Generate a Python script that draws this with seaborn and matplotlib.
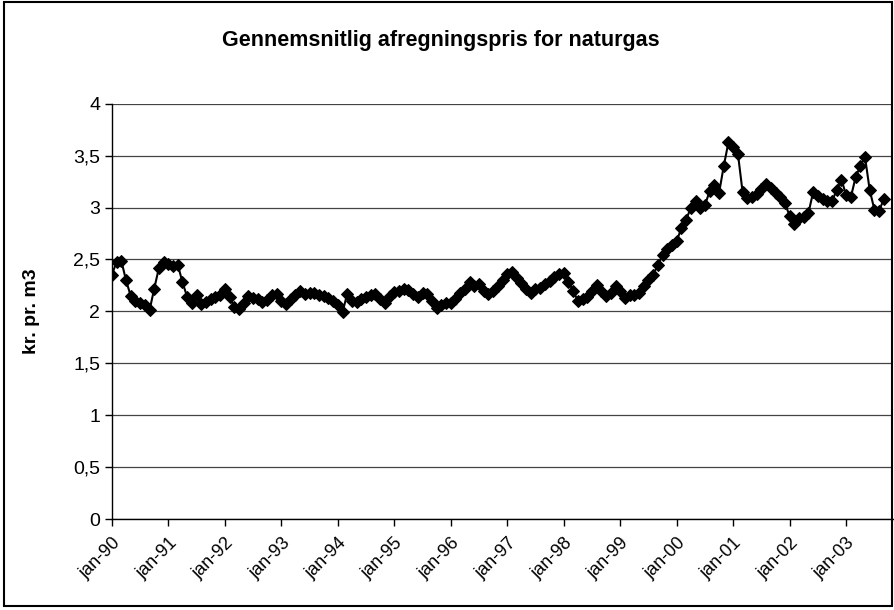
import matplotlib.pyplot as plt
import seaborn as sns
import pandas as pd
from matplotlib.patches import Rectangle

# Monthly average natural gas price (kr. pr. m3), jan-90 .. sep-03
y1990 = [2.35, 2.48, 2.49, 2.30, 2.15, 2.10, 2.08, 2.06, 2.01, 2.22, 2.42, 2.48]
y1991 = [2.46, 2.44, 2.45, 2.28, 2.14, 2.08, 2.16, 2.07, 2.09, 2.12, 2.14, 2.16]
y1992 = [2.22, 2.14, 2.04, 2.02, 2.08, 2.15, 2.13, 2.12, 2.09, 2.11, 2.16, 2.17]
y1993 = [2.10, 2.07, 2.12, 2.16, 2.20, 2.17, 2.18, 2.18, 2.16, 2.15, 2.13, 2.10]
y1994 = [2.06, 1.99, 2.17, 2.10, 2.09, 2.12, 2.14, 2.16, 2.17, 2.12, 2.08, 2.15]
y1995 = [2.19, 2.20, 2.22, 2.21, 2.17, 2.14, 2.18, 2.17, 2.10, 2.03, 2.06, 2.08]
y1996 = [2.08, 2.12, 2.18, 2.22, 2.28, 2.24, 2.26, 2.20, 2.17, 2.20, 2.24, 2.30]
y1997 = [2.36, 2.38, 2.32, 2.27, 2.22, 2.18, 2.22, 2.23, 2.26, 2.29, 2.33, 2.36]
y1998 = [2.37, 2.28, 2.20, 2.10, 2.12, 2.14, 2.20, 2.25, 2.20, 2.15, 2.18, 2.24]
y1999 = [2.20, 2.13, 2.16, 2.16, 2.18, 2.24, 2.30, 2.35, 2.45, 2.54, 2.60, 2.64]
y2000 = [2.68, 2.80, 2.88, 3.00, 3.06, 3.00, 3.02, 3.16, 3.22, 3.14, 3.40, 3.63]
y2001 = [3.58, 3.52, 3.15, 3.09, 3.10, 3.13, 3.18, 3.23, 3.19, 3.14, 3.10, 3.04]
y2002 = [2.92, 2.84, 2.90, 2.91, 2.95, 3.15, 3.11, 3.08, 3.06, 3.06, 3.17, 3.27]
y2003 = [3.12, 3.10, 3.29, 3.40, 3.49, 3.17, 2.98, 2.97, 3.08]

years = ['90', '91', '92', '93', '94', '95', '96', '97', '98', '99', '00', '01', '02', '03']
tick_labels = ['jan-' + y for y in years]
y_ticks = [0, 0.5, 1, 1.5, 2, 2.5, 3, 3.5, 4]
y_tick_labels = ['0', '0,5', '1', '1,5', '2', '2,5', '3', '3,5', '4']

values = (y1990 + y1991 + y1992 + y1993 + y1994 + y1995 + y1996 + y1997
          + y1998 + y1999 + y2000 + y2001 + y2002 + y2003)
df = pd.DataFrame({'month': range(len(values)), 'price': values})

sns.set_style('white')
plt.rcParams['font.family'] = ['Liberation Sans', 'DejaVu Sans']
plt.rcParams['text.color'] = 'black'
plt.rcParams['xtick.color'] = 'black'
plt.rcParams['ytick.color'] = 'black'
plt.rcParams['axes.labelcolor'] = 'black'

fig = plt.figure(figsize=(8.95, 6.1), dpi=100)
ax = fig.add_axes([0.125, 0.149, 0.873, 0.681])

ax.yaxis.grid(True, color='#444444', linewidth=0.9)
ax.set_axisbelow(True)

sns.lineplot(data=df, x='month', y='price', ax=ax, color='black',
             linewidth=1.5, marker='D', markersize=6.5,
             markeredgecolor='black', markerfacecolor='black')

ax.set_xlim(0, 166)
ax.set_ylim(0, 4)
ax.set_xticks(range(0, 12 * len(tick_labels), 12))
ax.set_xticklabels(tick_labels, rotation=45, ha='right',
                   rotation_mode='anchor', fontsize=13)
ax.set_yticks(y_ticks)
ax.set_yticklabels(y_tick_labels, fontsize=14)
ax.tick_params(axis='both', direction='out', length=5, width=1,
               color='black', bottom=True, left=True)
ax.tick_params(axis='x', pad=6)

for side in ['top', 'right']:
    ax.spines[side].set_visible(False)
for side in ['left', 'bottom']:
    ax.spines[side].set_color('black')
    ax.spines[side].set_linewidth(1)

ax.set_xlabel('')
ax.set_ylabel('kr. pr. m3', fontsize=14, fontweight='bold')
ax.yaxis.set_label_coords(-0.092, 0.5)

fig.text(0.492, 0.934, 'Gennemsnitlig afregningspris for naturgas',
         ha='center', va='center', fontsize=15.5, fontweight='bold')

# chart border
fig.patches.append(Rectangle((0.004, 0.006), 0.993, 0.99, transform=fig.transFigure,
                             fill=False, edgecolor='black', linewidth=1.5))

fig.savefig('out.png', dpi=100)
